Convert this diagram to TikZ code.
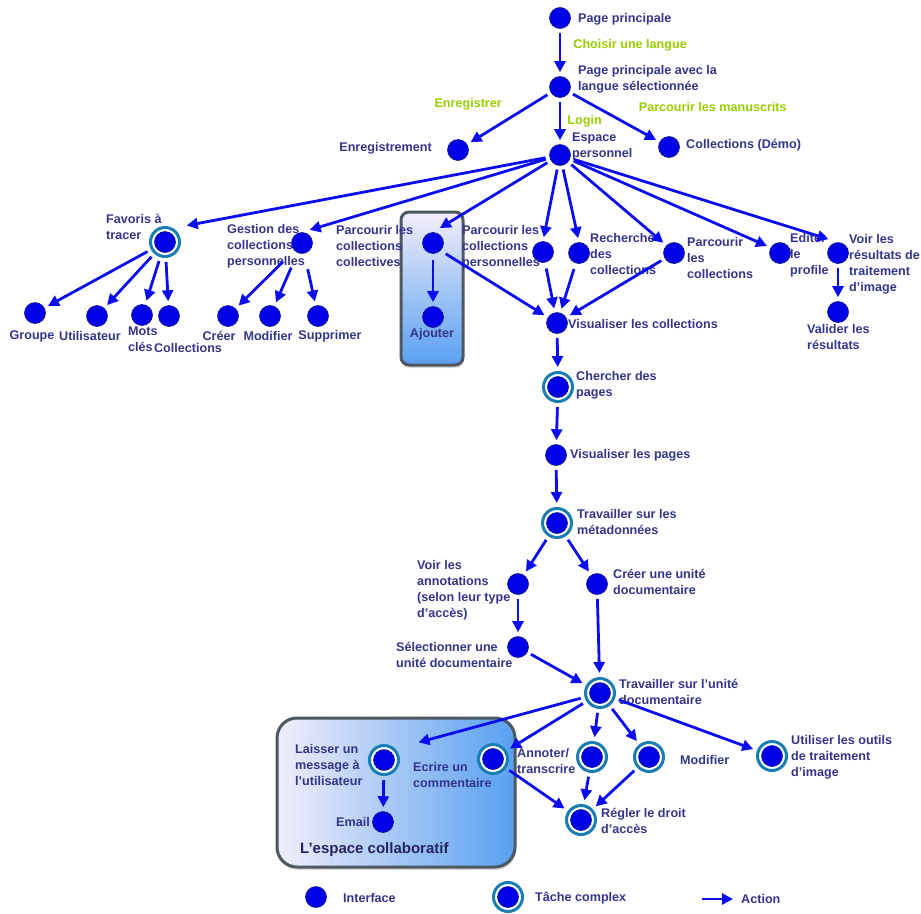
\documentclass[tikz,border=0pt]{standalone}
\usepackage{fontspec}
\setmainfont{Liberation Sans}
\usepackage{xcolor}
\usepackage{tikz}
\usetikzlibrary{arrows,arrows.meta,shadows,positioning}

\definecolor{bleunoeud}{RGB}{0,0,232}
\definecolor{bordnoeud}{RGB}{20,20,120}
\definecolor{anneau}{RGB}{26,126,178}
\definecolor{texte}{RGB}{52,52,140}
\definecolor{vert}{RGB}{153,204,0}
\definecolor{fleche}{RGB}{12,12,240}
\definecolor{lavande}{RGB}{242,238,251}
\definecolor{bleuboite}{RGB}{88,160,240}
\definecolor{cadre}{RGB}{78,88,96}

\begin{document}
\begin{tikzpicture}[x=1pt,y=-1pt,font=\fontsize{12.6}{16}\selectfont\bfseries]
    \tikzstyle{iface}=[circle, fill=bleunoeud, draw=bordnoeud, line width=.6pt, minimum size=21pt, inner sep=0pt]
    \tikzstyle{tache}=[circle, draw=anneau, line width=3pt, fill=white, minimum size=29pt, inner sep=0pt,
        path picture={\filldraw[fill=bleunoeud, draw=bordnoeud, line width=.6pt] (path picture bounding box.center) circle (10.5pt);}]
    \tikzstyle{lbl}=[text=texte, align=left, inner sep=0pt]
    \tikzstyle{grn}=[text=vert, inner sep=0pt]
    \tikzstyle{act}=[draw=fleche, line width=2.8pt, -{Triangle[length=11pt,width=11pt]}, shorten >=4pt, shorten <=4pt]
    \tikzstyle{boite}=[draw=cadre, line width=3pt, drop shadow={opacity=.3, shadow xshift=1pt, shadow yshift=-3pt}]

\useasboundingbox (0,0) rectangle (921,913);

% les deux cadres
\draw[boite, rounded corners=8pt, top color=lavande, bottom color=bleuboite, middle color=lavande!50!bleuboite] (401,212) rectangle (463,365);
\draw[boite, rounded corners=20pt, left color=lavande, right color=bleuboite] (277,718) rectangle (515,867);
\node[lbl, anchor=west, font=\fontsize{15}{18}\selectfont\bfseries, text=texte!70!black] (lcollab) at (300,850) {L’espace collaboratif};

% accueil
\node[iface] (pp) at (560,18) {};
\node[lbl, anchor=west] (lpp) at (578,19) {Page principale};
\node[iface] (ppl) at (560,87) {};
\node[lbl, anchor=west] (lppl) at (578,79) {Page principale avec la\\langue sélectionnée};
\node[iface] (enr) at (458,150) {};
\node[lbl, anchor=east] (lenr) at (432,148) {Enregistrement};
\node[iface] (esp) at (560,155) {};
\node[lbl, anchor=west] (lesp) at (572,146) {Espace\\personnel};
\node[iface] (demo) at (669,147) {};
\node[lbl, anchor=west] (ldemo) at (686,145) {Collections (Démo)};

% espace personnel
\node[tache] (fav) at (165,242) {};
\node[lbl, anchor=west] (lfav) at (106,227) {Favoris à\\tracer};
\node[iface] (gest) at (302,243) {};
\node[lbl, anchor=west] (lgest) at (227,246) {Gestion des\\collections\\personnelles};
\node[iface] (pcc) at (433,243) {};
\node[lbl, anchor=west] (lpcc) at (336,246) {Parcourir les\\collections\\collectives};
\node[iface] (pcp) at (543,252) {};
\node[lbl, anchor=west] (lpcp) at (462,247) {Parcourir les\\collections\\personnelles};
\node[iface] (rech) at (579,253) {};
\node[lbl, anchor=west] (lrech) at (590,254) {Recherche\\des\\collections};
\node[iface] (pcol) at (674,253) {};
\node[lbl, anchor=west] (lpcol) at (687,258) {Parcourir\\les\\collections};
\node[iface] (edit) at (780,253) {};
\node[lbl, anchor=west] (ledit) at (790,255) {Editer\\le\\profile};
\node[iface] (voir) at (838,253) {};
\node[lbl, anchor=west] (lvoir) at (849,264) {Voir les\\résultats de\\traitement\\d’image};

% troisieme niveau
\node[iface] (grp) at (35,313) {};
\node[lbl] (lgrp) at (32,336) {Groupe};
\node[iface] (util) at (97,316) {};
\node[lbl] (lutil) at (90,336) {Utilisateur};
\node[iface] (mots) at (142,315) {};
\node[lbl, anchor=west] (lmots) at (128,339) {Mots\\clés};
\node[iface] (coll) at (169,316) {};
\node[lbl] (lcoll) at (188,348) {Collections};
\node[iface] (creer) at (228,316) {};
\node[lbl] (lcreer) at (219,336) {Créer};
\node[iface] (modif) at (270,316) {};
\node[lbl] (lmodif) at (268,336) {Modifier};
\node[iface] (suppr) at (318,316) {};
\node[lbl] (lsuppr) at (330,336) {Supprimer};
\node[iface] (ajout) at (433,317) {};
\node[lbl] (lajout) at (432,334) {Ajouter};
\node[iface] (valid) at (838,312) {};
\node[lbl, anchor=west] (lvalid) at (807,337) {Valider les\\résultats};
\node[iface] (vcol) at (557,323) {};
\node[lbl, anchor=west] (lvcol) at (568,324) {Visualiser les collections};

% pages et metadonnees
\node[tache] (cherch) at (558,387) {};
\node[lbl, anchor=west] (lcherch) at (576,385) {Chercher des\\pages};
\node[iface] (vpag) at (556,455) {};
\node[lbl, anchor=west] (lvpag) at (570,455) {Visualiser les pages};
\node[tache] (meta) at (557,523) {};
\node[lbl, anchor=west] (lmeta) at (577,522) {Travailler sur les\\métadonnées};
\node[iface] (vann) at (518,584) {};
\node[lbl, anchor=west] (lvann) at (417,590) {Voir les\\annotations\\(selon leur type\\d’accès)};
\node[iface] (cunit) at (597,584) {};
\node[lbl, anchor=west] (lcunit) at (613,582) {Créer une unité\\documentaire};
\node[iface] (sel) at (518,647) {};
\node[lbl, anchor=west] (lsel) at (396,655) {Sélectionner une\\unité documentaire};
\node[tache] (trav) at (600,693) {};
\node[lbl, anchor=west] (ltrav) at (619,692) {Travailler sur l’unité\\documentaire};

% unite documentaire
\node[tache] (laiss) at (384,760) {};
\node[lbl, anchor=west] (llaiss) at (295,765) {Laisser un\\message à\\l’utilisateur};
\node[tache] (ecr) at (493,759) {};
\node[lbl, anchor=west] (lecr) at (413,775) {Ecrire un\\commentaire};
\node[tache] (annot) at (592,757) {};
\node[lbl, anchor=west] (lannot) at (517,761) {Annoter/\\transcrire};
\node[tache] (modi) at (649,757) {};
\node[lbl, anchor=west] (lmodi) at (680,760) {Modifier};
\node[tache] (outil) at (772,756) {};
\node[lbl, anchor=west] (loutil) at (791,757) {Utiliser les outils\\de traitement\\d’image};
\node[iface] (email) at (383,822) {};
\node[lbl, anchor=east] (lemail) at (370,822) {Email};
\node[tache] (regl) at (581,820) {};
\node[lbl, anchor=west] (lregl) at (601,821) {Régler le droit\\d’accès};

% legende
\node[iface] (leg1) at (316,897) {};
\node[lbl, anchor=west] (lleg1) at (343,898) {Interface};
\node[tache] (leg2) at (508,897) {};
\node[lbl, anchor=west] (lleg2) at (535,898) {Tâche complex};
\coordinate (legA) at (702,899);
\coordinate (legB) at (733,899);
\node[lbl, anchor=west] (lleg3) at (741,899) {Action};

% actions
\draw[act] (pp) -- node[grn, pos=.35, right=12pt] {Choisir une langue} (ppl);
\draw[act] (ppl) -- node[grn, pos=.45, above left=4pt and 10pt] {Enregistrer} (enr);
\draw[act] (ppl) -- node[grn, pos=.5, right=6pt] {Login} (esp);
\draw[act] (ppl) -- node[grn, pos=.5, above right=4pt and 23pt] {Parcourir les manuscrits} (demo);
\draw[act, shorten >=14pt] (esp) -- (fav.60);
\draw[act, shorten >=8pt] (esp) -- (gest.north);
\draw[act, shorten >=8pt] (esp) -- (pcc.north);
\draw[act] (esp) -- (pcp.north);
\draw[act] (esp) -- (rech.north);
\draw[act] (esp) -- (pcol.north west);
\draw[act] (esp) -- (edit.150);
\draw[act, shorten >=10pt] (esp) -- (voir.north);
\foreach \f in {grp,util,mots,coll}
    \draw[act] (fav) -- (\f);
\foreach \f in {creer,modif,suppr}
    \draw[act, shorten <=16pt] (gest) -- (\f);
\draw[act, shorten <=6pt] (pcc) -- (ajout);
\draw[act, shorten <=6pt] (pcc.south east) -- (vcol);
\draw[act, shorten <=6pt] (pcp) -- (vcol);
\draw[act, shorten <=6pt] (rech) -- (vcol);
\draw[act] (pcol) -- (vcol);
\draw[act] (voir) -- (valid);
\draw[act] (vcol) -- (cherch);
\draw[act] (cherch) -- (vpag);
\draw[act] (vpag) -- (meta);
\draw[act] (meta) -- (vann);
\draw[act] (meta) -- (cunit);
\draw[act] (vann) -- (sel);
\draw[act] (cunit) -- (trav);
\draw[act] (sel) -- (trav);
\draw[act, shorten >=24pt] (trav) -- (laiss.north east);
\draw[act] (trav) -- (ecr);
\draw[act] (trav) -- (annot);
\draw[act] (trav) -- (modi);
\draw[act] (trav) -- (outil);
\draw[act] (laiss) -- (email);
\draw[act] (ecr) -- (regl);
\draw[act] (annot) -- (regl);
\draw[act] (modi) -- (regl);
\draw[act, shorten <=0pt, shorten >=0pt] (legA) -- (legB);
\end{tikzpicture}
\end{document}
